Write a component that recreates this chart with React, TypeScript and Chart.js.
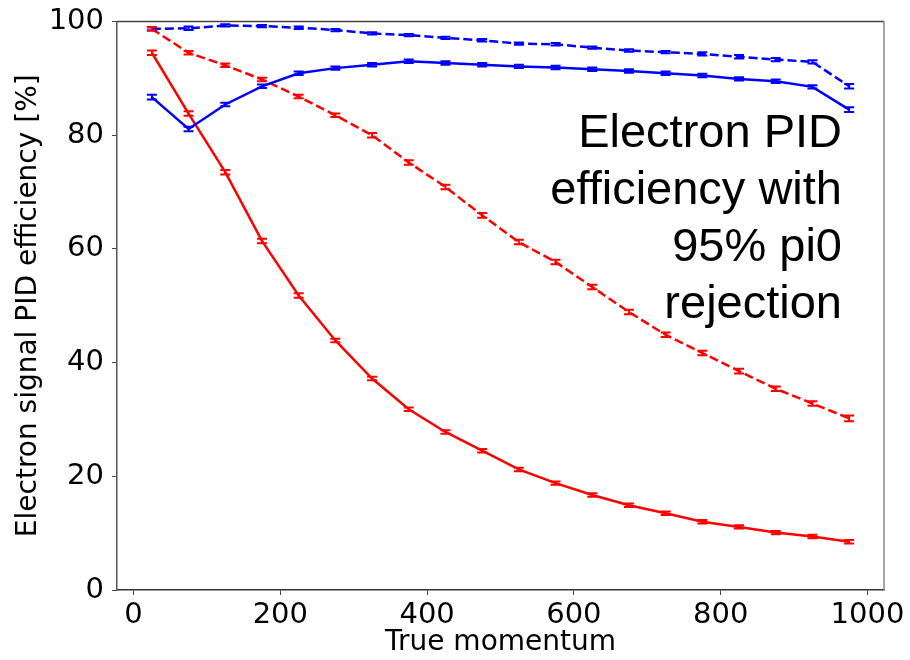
import React, { useEffect, useRef } from "react";
import { Chart, registerables } from "chart.js";

Chart.register(...registerables);

const momentum = [25, 75, 125, 175, 225, 275, 325, 375, 425, 475, 525, 575, 625, 675, 725, 775, 825, 875, 925, 975];

const blueDashed = [98.7, 98.8, 99.3, 99.2, 98.9, 98.5, 97.9, 97.6, 97.1, 96.7, 96.1, 96.0, 95.4, 94.9, 94.6, 94.3, 93.8, 93.3, 92.9, 88.6];
const blueSolid = [86.7, 81.1, 85.4, 88.6, 90.9, 91.8, 92.4, 93.0, 92.7, 92.4, 92.1, 91.9, 91.6, 91.3, 90.9, 90.5, 89.9, 89.5, 88.5, 84.5];
const redDashed = [98.7, 94.5, 92.3, 89.8, 86.8, 83.5, 80.0, 75.2, 70.9, 65.9, 61.2, 57.7, 53.3, 48.9, 44.9, 41.7, 38.5, 35.4, 32.8, 30.2];
const redSolid = [94.5, 83.8, 73.5, 61.4, 51.8, 43.9, 37.2, 31.8, 27.8, 24.5, 21.2, 18.8, 16.7, 14.9, 13.5, 12.0, 11.1, 10.1, 9.4, 8.5];

const blueDashedErr = [0.3, 0.3, 0.2, 0.2, 0.2, 0.2, 0.2, 0.2, 0.2, 0.2, 0.2, 0.2, 0.2, 0.2, 0.2, 0.3, 0.3, 0.3, 0.3, 0.4];
const blueSolidErr = [0.4, 0.4, 0.3, 0.3, 0.3, 0.3, 0.3, 0.3, 0.3, 0.3, 0.3, 0.3, 0.3, 0.3, 0.3, 0.3, 0.3, 0.3, 0.3, 0.4];
const redDashedErr = [0.3, 0.3, 0.3, 0.3, 0.3, 0.3, 0.4, 0.4, 0.4, 0.4, 0.4, 0.4, 0.4, 0.4, 0.4, 0.4, 0.4, 0.4, 0.4, 0.5];
const redSolidErr = [0.4, 0.4, 0.4, 0.4, 0.4, 0.3, 0.3, 0.3, 0.3, 0.3, 0.3, 0.3, 0.3, 0.3, 0.3, 0.3, 0.3, 0.3, 0.3, 0.3];

const xTicks = [0, 200, 400, 600, 800, 1000];
const yTicks = [0, 20, 40, 60, 80, 100];

const xTitle = "True momentum";
const yTitle = "Electron signal PID efficiency [%]";
const noteLines = ["Electron PID", "efficiency with", "95% pi0", "rejection"];

const BLUE = "#0000ff";
const RED = "#ff0000";

const errorBarPlugin = {
  id: "errorBars",
  afterDatasetsDraw(chart: any) {
    const ctx = chart.ctx;
    const xs = chart.scales.x;
    const ys = chart.scales.y;
    chart.data.datasets.forEach((ds: any) => {
      const errs: number[] = ds.errors || [];
      ctx.save();
      ctx.strokeStyle = ds.borderColor;
      ctx.lineWidth = 2;
      ctx.setLineDash([]);
      ds.data.forEach((p: any, i: number) => {
        const e = errs[i] || 0;
        const px = xs.getPixelForValue(p.x);
        const y1 = ys.getPixelForValue(p.y + e);
        const y2 = ys.getPixelForValue(p.y - e);
        ctx.beginPath();
        ctx.moveTo(px, y1);
        ctx.lineTo(px, y2);
        ctx.moveTo(px - 5, y1);
        ctx.lineTo(px + 5, y1);
        ctx.moveTo(px - 5, y2);
        ctx.lineTo(px + 5, y2);
        ctx.stroke();
      });
      ctx.restore();
    });
  },
};

const notePlugin = {
  id: "note",
  afterDraw(chart: any) {
    const ctx = chart.ctx;
    const area = chart.chartArea;
    ctx.save();
    ctx.font = '47px "Liberation Sans", Arial, sans-serif';
    ctx.fillStyle = "#000";
    ctx.textAlign = "right";
    ctx.textBaseline = "alphabetic";
    const right = area.right - 42;
    const firstBaseline = area.top + 125;
    noteLines.forEach((line, i) => {
      ctx.fillText(line, right, firstBaseline + i * 57);
    });
    ctx.restore();
  },
};

export default function App() {
  const ref = useRef<HTMLCanvasElement>(null);

  useEffect(() => {
    if (!ref.current) return;
    const mk = (vals: number[]) => vals.map((v, i) => ({ x: momentum[i], y: v }));
    const tickFont = { family: '"DejaVu Sans", sans-serif', size: 29 };
    const titleFont = { family: '"DejaVu Sans", sans-serif', size: 28 };
    const chart = new Chart(ref.current, {
      type: "line",
      data: {
        datasets: [
          { label: "blue dashed", data: mk(blueDashed), errors: blueDashedErr, borderColor: BLUE, borderDash: [9, 4], borderWidth: 2.5, pointRadius: 0, tension: 0 } as any,
          { label: "blue solid", data: mk(blueSolid), errors: blueSolidErr, borderColor: BLUE, borderWidth: 2.5, pointRadius: 0, tension: 0 } as any,
          { label: "red dashed", data: mk(redDashed), errors: redDashedErr, borderColor: RED, borderDash: [9, 4], borderWidth: 2.5, pointRadius: 0, tension: 0 } as any,
          { label: "red solid", data: mk(redSolid), errors: redSolidErr, borderColor: RED, borderWidth: 2.5, pointRadius: 0, tension: 0 } as any,
        ],
      },
      options: {
        animation: false,
        responsive: false,
        maintainAspectRatio: false,
        layout: { padding: { left: 0, top: 21.5, right: 26, bottom: 0 } },
        plugins: { legend: { display: false }, tooltip: { enabled: false } },
        scales: {
          x: {
            type: "linear",
            min: -22.5,
            max: 1022.5,
            afterBuildTicks: (s: any) => { s.ticks = xTicks.map((v) => ({ value: v })); },
            afterFit: (s: any) => { s.height = 70; s.paddingLeft = 0; s.paddingRight = 0; },
            grid: { drawOnChartArea: false, drawTicks: true, tickLength: 5, color: "#444", lineWidth: 1 },
            border: { display: true, color: "#333", width: 1.5 },
            ticks: { color: "#000", font: tickFont, padding: 3, maxRotation: 0, autoSkip: false, callback: (v: any) => String(v) },
            title: { display: true, text: xTitle, color: "#000", font: titleFont, padding: { top: 0, bottom: 0 } },
          },
          y: {
            type: "linear",
            min: 0,
            max: 100,
            afterBuildTicks: (s: any) => { s.ticks = yTicks.map((v) => ({ value: v })); },
            afterFit: (s: any) => { s.width = 117; s.paddingTop = 0; s.paddingBottom = 0; },
            grid: { drawOnChartArea: false, drawTicks: true, tickLength: 5, color: "#444", lineWidth: 1 },
            border: { display: true, color: "#555", width: 1.5 },
            ticks: { color: "#000", font: tickFont, padding: 8, autoSkip: false, callback: (v: any) => String(v) },
            title: { display: true, text: yTitle, color: "#000", font: titleFont, padding: { top: 12, bottom: 0 } },
          },
        },
      },
      plugins: [
        errorBarPlugin,
        notePlugin,
        {
          id: "frame",
          afterDraw(chart: any) {
            const { ctx, chartArea: a } = chart;
            ctx.save();
            ctx.strokeStyle = "#444";
            ctx.lineWidth = 1.5;
            ctx.beginPath();
            ctx.moveTo(a.left, a.top);
            ctx.lineTo(a.right, a.top);
            ctx.stroke();
            ctx.strokeStyle = "#888";
            ctx.beginPath();
            ctx.moveTo(a.right, a.top);
            ctx.lineTo(a.right, a.bottom);
            ctx.stroke();
            ctx.restore();
          },
        },
      ],
    } as any);
    return () => chart.destroy();
  }, []);

  return (
    <div style={{ position: "fixed", left: 0, top: 0, width: 910, height: 660, background: "#fff" }}>
      <canvas ref={ref} width={910} height={660} style={{ width: 910, height: 660, display: "block" }} />
    </div>
  );
}
